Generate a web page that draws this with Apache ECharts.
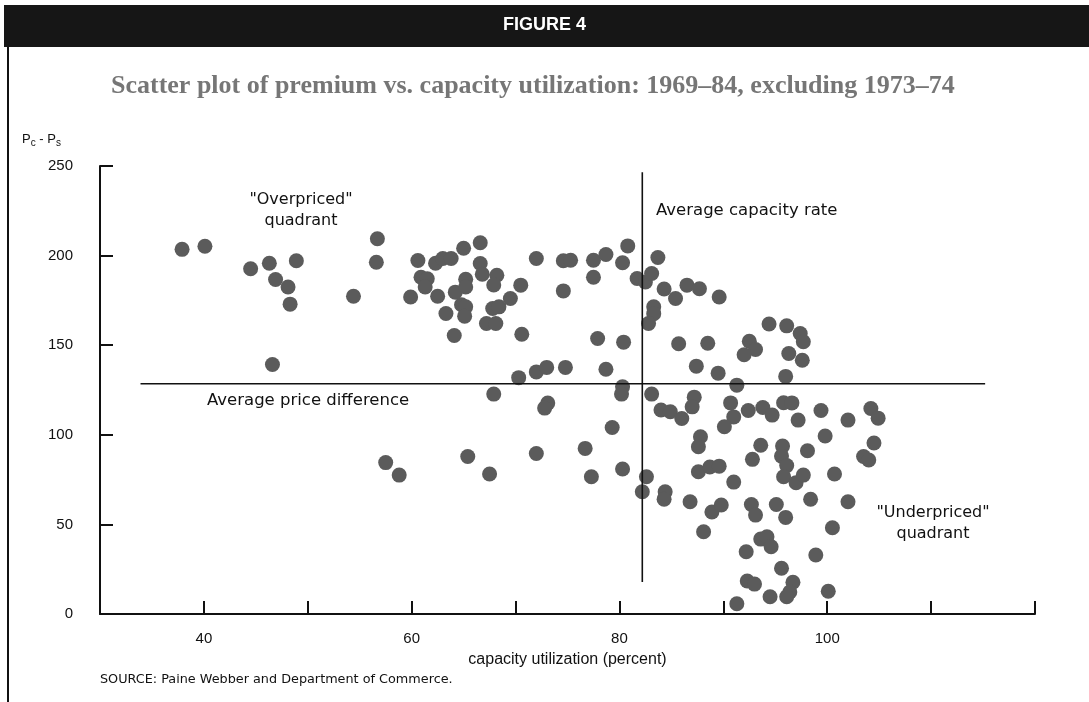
<!DOCTYPE html>
<html>
<head>
<meta charset="utf-8">
<script src="https://cdn.jsdelivr.net/npm/echarts@6/dist/echarts.min.js"></script>
<style>
html,body{margin:0;padding:0;background:#fff;}
#chart{width:1089px;height:702px;}
</style>
</head>
<body>
<div id="chart"></div>
<script>
// ---- data ----
const capacityUtil = [
  37.9,40.1,44.5,46.3,48.9,46.9,48.1,48.3,54.4,46.6,
  56.7,56.6,60.6,62.3,63.0,63.8,65.0,66.6,60.9,61.5,
  61.3,59.9,62.5,64.2,65.2,65.2,66.6,66.8,68.2,67.9,
  63.3,64.8,65.2,65.1,64.1,67.8,68.4,69.5,70.5,67.2,
  68.1,70.6,72.0,74.6,75.3,74.6,77.5,78.7,77.5,80.3,
  80.8,77.9,80.4,70.3,72.0,73.0,74.8,78.7,81.7,82.5,
  83.1,83.7,84.3,85.4,86.5,87.7,89.6,83.3,83.3,82.8,
  85.7,88.5,92.5,93.1,92.0,94.4,96.1,97.4,97.7,96.3,
  97.6,87.4,89.5,96.0,91.3,80.3,80.2,67.9,73.1,72.8,
  83.1,84.0,84.9,86.0,87.2,87.0,90.7,91.0,90.1,92.4,
  93.8,94.7,95.8,96.6,97.2,99.4,102.0,104.2,104.9,79.3,
  87.8,87.6,93.6,95.7,95.6,96.1,95.8,92.8,98.1,99.8,
  104.5,103.5,104.0,76.7,72.0,65.4,57.5,58.8,67.5,77.3,
  80.3,82.6,82.2,87.6,88.7,89.6,91.0,97.0,97.7,100.7,
  84.4,84.3,86.8,88.9,89.8,92.7,93.1,95.1,96.0,98.4,
  102.0,88.1,100.5,93.6,94.2,94.6,92.2,98.9,95.6,92.3,
  93.0,96.7,96.4,94.5,96.1,100.1,91.3
];
const priceDiff = [
  203.5,205.2,192.7,195.7,197.1,186.7,182.5,172.9,177.3,139.2,
  209.4,196.3,197.3,195.7,198.4,198.4,204.1,207.2,187.9,187.1,
  182.5,176.9,177.3,179.6,186.8,182.5,195.6,189.6,189.0,183.6,
  167.7,172.6,171.4,166.2,155.4,170.5,171.4,176.1,183.5,162.1,
  162.1,156.1,198.4,197.1,197.4,180.3,197.4,200.6,187.9,196.0,
  205.4,153.7,151.7,131.9,135.1,137.6,137.6,136.6,187.2,185.3,
  190.0,198.9,181.4,176.1,183.5,181.5,176.9,171.4,167.6,162.1,
  150.8,151.1,152.2,147.6,144.7,161.8,160.8,156.5,151.9,145.4,
  141.6,138.3,134.4,132.6,127.7,126.8,122.7,122.7,117.7,114.9,
  122.7,113.8,112.9,109.1,121.0,115.6,117.8,110.0,104.5,113.6,
  115.2,111.0,117.9,117.8,108.2,113.6,108.2,114.7,109.3,104.1,
  98.9,93.3,94.2,93.7,88.1,82.8,76.6,86.3,91.1,99.3,
  95.4,87.9,85.9,92.4,89.6,87.9,84.5,77.5,78.1,76.6,
  80.9,76.6,68.2,79.4,82.0,82.5,73.6,73.3,77.5,78.1,
  68.2,64.1,62.6,56.9,60.8,61.1,55.2,61.1,53.9,64.0,
  62.6,45.9,48.1,41.8,43.1,37.5,34.7,32.9,25.5,18.4,
  16.7,17.7,12.3,9.6,9.6,12.7,5.7
];
const avgPriceLine = [[33.9, 128.5], [115.2, 128.5]];
const avgCapacityLine = [[82.2, 246.5], [82.2, 17.8]];
const xLabelTicks = [40, 60, 80, 100];
const yTicks = [0, 50, 100, 150, 200, 250];

const points = capacityUtil.map((x, i) => [x, priceDiff[i]]);

const chart = echarts.init(document.getElementById('chart'), null, {renderer: 'canvas'});
const FONT = 'Liberation Sans, Arial, sans-serif';
const WIDE = 'DejaVu Sans, Verdana, sans-serif';

chart.setOption({
  backgroundColor: '#ffffff',
  animation: false,
  title: {
    text: 'Scatter plot of premium vs. capacity utilization: 1969\u201384, excluding 1973\u201374',
    left: 106,
    top: 68,
    textStyle: {fontFamily: 'Liberation Serif, Times New Roman, serif', fontWeight: 'bold', fontSize: 26, color: '#767676'}
  },
  grid: {left: 100, right: 54, top: 166, bottom: 88},
  xAxis: {
    type: 'value', min: 30, max: 120, interval: 10,
    axisLine: {lineStyle: {color: '#111', width: 2}},
    axisTick: {inside: true, length: 13, lineStyle: {color: '#111', width: 2}},
    splitLine: {show: false},
    axisLabel: {
      margin: 17, fontSize: 15, color: '#111', fontFamily: FONT,
      formatter: v => xLabelTicks.indexOf(v) >= 0 ? String(v) : ''
    },
    name: 'capacity utilization (percent)',
    nameLocation: 'middle', nameGap: 38,
    nameTextStyle: {fontSize: 16, color: '#111', fontFamily: FONT}
  },
  yAxis: {
    type: 'value', min: yTicks[0], max: yTicks[yTicks.length - 1], interval: 50,
    axisLine: {show: true, lineStyle: {color: '#111', width: 2}},
    axisTick: {show: true, inside: true, length: 13, lineStyle: {color: '#111', width: 2}},
    splitLine: {show: false},
    axisLabel: {margin: 27, fontSize: 15, color: '#111', fontFamily: FONT}
  },
  series: [
    {
      type: 'scatter', data: points, symbolSize: 15,
      itemStyle: {color: '#5b5b5b', opacity: 1}, z: 3
    },
    {
      type: 'line', data: avgPriceLine, symbol: 'none',
      lineStyle: {color: '#111', width: 1.6}, z: 4
    },
    {
      type: 'line', data: avgCapacityLine, symbol: 'none',
      lineStyle: {color: '#111', width: 1.6}, z: 4
    }
  ],
  graphic: [
    {type: 'rect', left: 4, top: 5, shape: {width: 1085, height: 42}, style: {fill: '#161616'}, z: 10},
    {type: 'text', left: 'center', top: 16, style: {text: 'FIGURE 4', fill: '#fff', font: 'bold 18px ' + FONT}, z: 11},
    {type: 'rect', left: 7, top: 47, shape: {width: 2, height: 655}, style: {fill: '#111'}, z: 10},
    {type: 'text', left: 22, top: 133, style: {
      text: 'P{s|c} - P{s|s}', fill: '#111', font: '13px ' + FONT,
      rich: {s: {fontSize: 10, fontFamily: FONT, verticalAlign: 'bottom', padding: [8, 0, 0, 0], fill: '#111'}}
    }},
    {type: 'text', x: 301, y: 189, style: {text: '"Overpriced"\nquadrant', fill: '#111', font: '16px ' + WIDE, textAlign: 'center', lineHeight: 21}},
    {type: 'text', x: 656, y: 202, style: {text: 'Average capacity rate', fill: '#111', font: '16.5px ' + WIDE}},
    {type: 'text', x: 207, y: 392, style: {text: 'Average price difference', fill: '#111', font: '16.5px ' + WIDE}},
    {type: 'text', x: 933, y: 502, style: {text: '"Underpriced"\nquadrant', fill: '#111', font: '16px ' + WIDE, textAlign: 'center', lineHeight: 21}},
    {type: 'text', x: 100, y: 673, style: {text: 'SOURCE: Paine Webber and Department of Commerce.', fill: '#111', font: '12.8px ' + WIDE}}
  ]
});
</script>
</body>
</html>
